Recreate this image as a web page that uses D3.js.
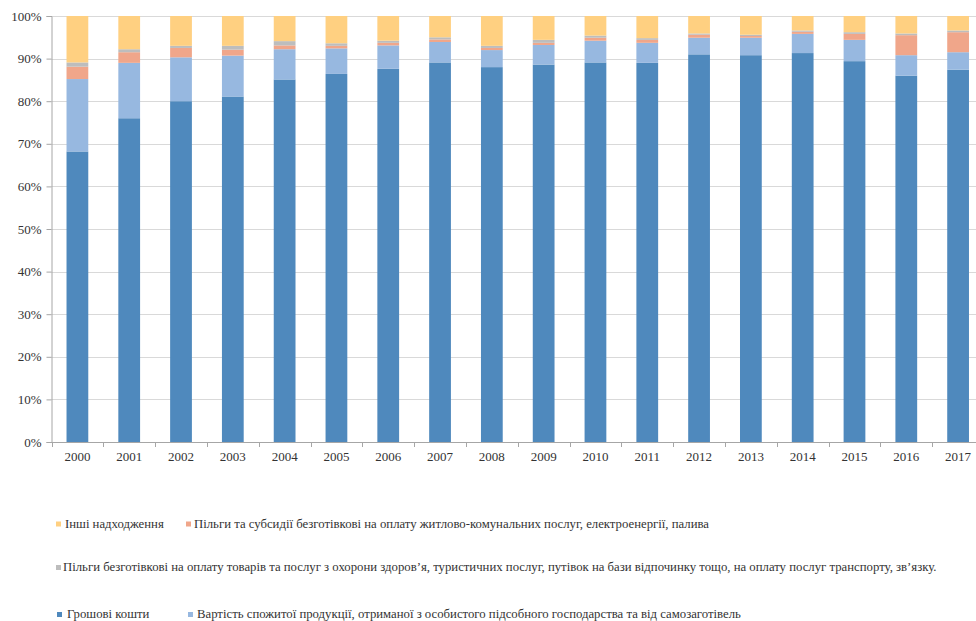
<!DOCTYPE html>
<html>
<head>
<meta charset="utf-8">
<script src="https://cdn.jsdelivr.net/npm/d3@7/dist/d3.min.js"></script>
<style>
  html, body { margin: 0; padding: 0; background: #fff; }
  svg { display: block; }
</style>
</head>
<body>
<svg id="chart" width="976" height="621"></svg>
<script>
const years = ["2000","2001","2002","2003","2004","2005","2006","2007","2008","2009","2010","2011","2012","2013","2014","2015","2016","2017"];
const cash      = [68.2, 76.0, 80.0, 81.1, 85.1, 86.4, 87.6, 89.1, 88.0, 88.6, 89.1, 89.0, 91.0, 90.8, 91.3, 89.4, 86.0, 87.4];
const ownProd   = [17.0, 13.0, 10.3,  9.6,  7.1,  6.0,  5.5,  4.8,  4.0,  4.6,  5.1,  4.7,  3.9,  4.1,  4.5,  5.0,  4.8,  4.1];
const housing   = [ 2.9,  2.5,  2.2,  1.4,  0.9,  0.6,  0.6,  0.6,  0.5,  0.5,  0.7,  0.7,  0.7,  0.4,  0.5,  1.4,  4.7,  4.7];
const benefits  = [ 1.0,  0.7,  0.5,  0.9,  1.0,  0.6,  0.5,  0.5,  0.5,  0.7,  0.5,  0.4,  0.3,  0.3,  0.3,  0.4,  0.4,  0.4];
const other     = [10.9,  7.8,  7.0,  7.0,  5.9,  6.4,  5.8,  5.0,  7.0,  5.6,  4.6,  5.2,  4.1,  4.4,  3.4,  3.8,  4.1,  3.4];
const yTicks = [0, 0.1, 0.2, 0.3, 0.4, 0.5, 0.6, 0.7, 0.8, 0.9, 1.0];

const seriesKeys = ["cash", "ownProd", "housing", "benefits", "other"];
const seriesNames = {
  cash: "Грошові  кошти",
  ownProd: "Вартість спожитої продукції, отриманої з особистого підсобного господарства та від самозаготівель",
  housing: "Пільги та субсидії безготівкові на оплату житлово-комунальних послуг, електроенергії, палива",
  benefits: "Пільги безготівкові на оплату товарів та послуг з охорони здоров’я, туристичних послуг, путівок на бази відпочинку тощо, на оплату послуг транспорту, зв’язку.",
  other: "Інші надходження"
};
const colors = { cash: "#4f89bd", ownProd: "#97b8e0", housing: "#f0a68a", benefits: "#bdbdbd", other: "#ffd081" };
const FONT = "'Liberation Serif', 'Times New Roman', serif";

const table = years.map((yr, i) => ({
  year: yr, cash: cash[i], ownProd: ownProd[i], housing: housing[i], benefits: benefits[i], other: other[i]
}));

const stacked = d3.stack().keys(seriesKeys).offset(d3.stackOffsetExpand)(table);

const svg = d3.select("#chart");
const pLeft = 51.5, pRight = 984, pTop = 16, pBottom = 442;

const x = d3.scaleBand().domain(years).range([pLeft, pRight]).paddingInner(0.58).paddingOuter(0.29);
const y = d3.scaleLinear().domain([0, 1]).range([pBottom, pTop]);

svg.append("defs").append("clipPath").attr("id", "clip")
  .append("rect").attr("x", 0).attr("y", 0).attr("width", 976).attr("height", 621);

const g = svg.append("g").attr("clip-path", "url(#clip)");

// gridlines
g.append("g").selectAll("line").data(yTicks.filter(t => t > 0)).join("line")
  .attr("x1", pLeft).attr("x2", pRight)
  .attr("y1", d => Math.round(y(d)) + 0.5).attr("y2", d => Math.round(y(d)) + 0.5)
  .attr("stroke", "#d9d9d9").attr("stroke-width", 1);

// bars
g.append("g").selectAll("g").data(stacked).join("g")
  .attr("fill", d => colors[d.key])
  .selectAll("rect").data(d => d).join("rect")
  .attr("x", d => x(d.data.year))
  .attr("width", x.bandwidth())
  .attr("y", d => y(d[1]))
  .attr("height", d => y(d[0]) - y(d[1]));

// y axis
const yAxis = d3.axisLeft(y).tickValues(yTicks).tickFormat(d3.format(".0%")).tickSize(5).tickPadding(5);
const ya = svg.append("g").attr("transform", `translate(${pLeft},0)`).call(yAxis)
  .attr("font-family", FONT).attr("font-size", 13);
ya.select(".domain").attr("stroke", "#a6a6a6");
ya.selectAll(".tick line").attr("stroke", "#a6a6a6");
ya.selectAll(".tick text").attr("fill", "#333");

// x axis
const xAxis = d3.axisBottom(x).tickSize(0).tickPadding(10);
const xa = g.append("g").attr("transform", `translate(0,${pBottom})`).call(xAxis)
  .attr("font-family", FONT).attr("font-size", 13);
xa.select(".domain").attr("stroke", "#a6a6a6").attr("d", `M${pLeft},0.5H${pRight}`);
xa.selectAll(".tick text").attr("fill", "#333");
// category boundary ticks
const step = x.step();
const bounds = d3.range(years.length + 1).map(i => pLeft + i * step);
xa.append("g").selectAll("line").data(bounds).join("line")
  .attr("x1", d => Math.round(d) + 0.5).attr("x2", d => Math.round(d) + 0.5)
  .attr("y1", 0).attr("y2", 5).attr("stroke", "#a6a6a6");

// legend
const legendItems = [
  { key: "other",    sx: 56,  tx: 65,  cy: 524,   len: null },
  { key: "housing",  sx: 186, tx: 194, cy: 524,   len: 515 },
  { key: "benefits", sx: 56,  tx: 63,  cy: 567.5, len: null },
  { key: "cash",     sx: 57,  tx: 67,  cy: 614.5, len: null },
  { key: "ownProd",  sx: 188, tx: 197, cy: 614.5, len: null }
];
const lg = svg.append("g").attr("font-family", FONT).attr("font-size", 12);
const li = lg.selectAll("g").data(legendItems).join("g");
li.append("rect").attr("x", d => d.sx).attr("y", d => d.cy - 2.5).attr("width", 5).attr("height", 5)
  .attr("fill", d => colors[d.key]);
const lt = li.append("text").attr("x", d => d.tx).attr("y", d => d.cy + 3.5).attr("fill", "#333")
  .text(d => seriesNames[d.key]);
// one font size for the legend, matched to the reference width of the widest first-row entry
let ratios = [];
lt.each(function(d) { if (d.len) ratios.push(d.len / this.getComputedTextLength()); });
const fs = 12 * d3.mean(ratios);
lg.attr("font-size", fs);
</script>
</body>
</html>
